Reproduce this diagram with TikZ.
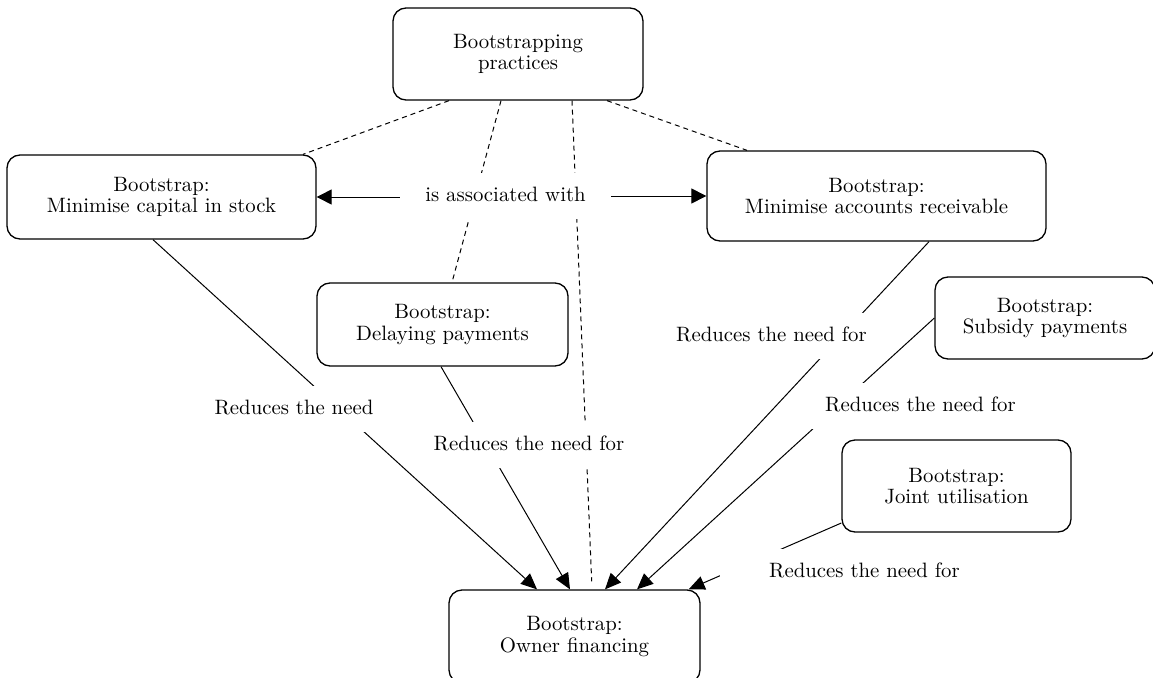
\documentclass[tikz,border=0pt]{standalone}
\usepackage{fontspec}
\setmainfont{lmroman10-regular}[Extension=.otf]
\usetikzlibrary{arrows.meta}
\begin{document}
\begin{tikzpicture}[x=1pt,y=-1pt,
  every node/.style={font=\fontsize{20.8}{21.5}\selectfont},
  box/.style={draw, line width=1.3pt, rounded corners=13pt, align=center, inner sep=0pt},
  lab/.style={fill=white, inner xsep=25.5pt, inner ysep=14pt, text height=14.5pt, text depth=4.3pt},
  rel/.style={line width=1pt, -{Triangle[length=16pt,width=14pt]}},
  assocarrow/.style={line width=1pt, -{Triangle[length=15pt,width=15pt]}},
  dshline/.style={line width=1pt, dash pattern=on 5pt off 4pt},
]
\useasboundingbox (0,0) rectangle (1153,677);
\clip (0,0) rectangle (1153,677);

% concept boxes
\node[box, minimum width=250pt, minimum height=92pt] (prac) at (518,54) {Bootstrapping\\practices};
\node[box, minimum width=309pt, minimum height=84pt] (lbox) at (161.5,197) {Bootstrap:\\Minimise capital in stock};
\node[box, minimum width=339pt, minimum height=90pt] (rbox) at (876.5,196) {Bootstrap:\\Minimise accounts receivable};
\node[box, minimum width=251pt, minimum height=83pt] (delay) at (442.5,324.5) {Bootstrap:\\Delaying payments};
\node[box, minimum width=220pt, minimum height=82pt] (subs) at (1045,318) {Bootstrap:\\Subsidy payments};
\node[box, minimum width=229pt, minimum height=92pt] (joint) at (956.5,486) {Bootstrap:\\Joint utilisation};
\node[box, minimum width=251pt, minimum height=93pt] (owner) at (574.5,636.5) {Bootstrap:\\Owner financing};

% dashed associations
\draw[dshline] ([xshift=-69pt]prac.south) -- ([xshift=141.5pt]lbox.north);
\draw[dshline] ([xshift=-17pt]prac.south) -- ([xshift=9.5pt]delay.north);
\draw[dshline, shorten >=8pt] ([xshift=54pt]prac.south) -- ([xshift=17.5pt]owner.north);
\draw[dshline] ([xshift=89pt]prac.south) -- ([xshift=-129.5pt]rbox.north);

\node[lab] (assoc) at (505.5,196) {is associated with};
\draw[assocarrow] (assoc.west |- lbox.east) -- (lbox.east);
\draw[assocarrow] (assoc.east |- rbox.west) -- (rbox.west);

% reduces the need for
\draw[rel] ([xshift=-8.5pt]lbox.south) -- ([xshift=-37.5pt]owner.north);
\node[lab] (la) at (294,409) {Reduces the need};
\draw[rel] ([xshift=-1.5pt]delay.south) -- ([xshift=-4.5pt]owner.north);
\node[lab] (lb) at (529,445) {Reduces the need for};
\draw[rel] ([xshift=52.5pt]rbox.south) -- ([xshift=30.5pt]owner.north);
\node[lab] (lc) at (771.5,336) {Reduces the need for};
\draw[rel] (subs.west) -- ([xshift=62.5pt]owner.north);
\node[lab] (ld) at (920.5,406) {Reduces the need for};
\draw[rel] ([yshift=-37pt]joint.west) -- ([xshift=-12pt]owner.north east);
\node[lab, inner xsep=49pt] (le) at (864.5,572) {Reduces the need for};
\end{tikzpicture}
\end{document}
